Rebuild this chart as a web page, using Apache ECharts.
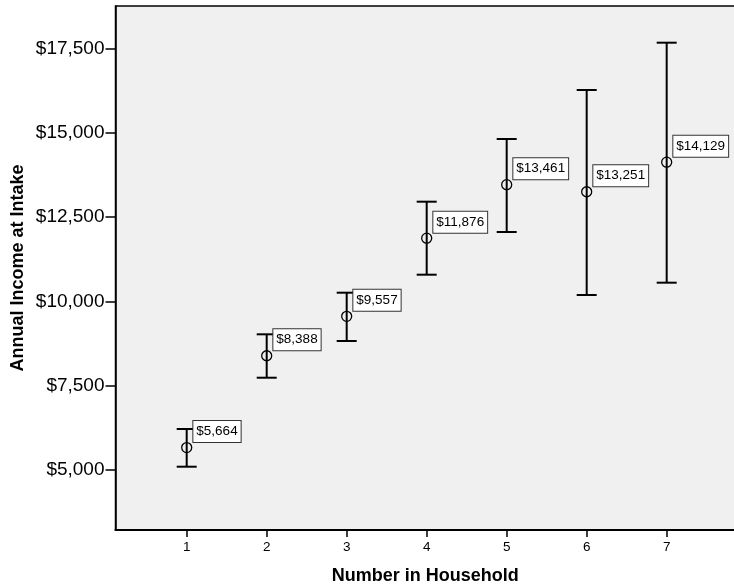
<!DOCTYPE html>
<html>
<head>
<meta charset="utf-8">
<script src="https://cdn.jsdelivr.net/npm/echarts@6/dist/echarts.min.js"></script>
<style>
html,body{margin:0;padding:0;background:#fff;}
#c{width:734px;height:585px;}
</style>
</head>
<body>
<div id="c"></div>
<script>
var households = [1, 2, 3, 4, 5, 6, 7];
var means = [5664, 8388, 9557, 11876, 13461, 13251, 14129];
var lower = [5098, 7737, 8826, 10792, 12058, 10190, 10555];
var upper = [6216, 9024, 10258, 12957, 14816, 16269, 17672];
var yTicks = [5000, 7500, 10000, 12500, 15000, 17500];

function money(v) {
  return '$' + String(Math.round(v)).replace(/\B(?=(\d{3})+(?!\d))/g, ',');
}

var FONT = '"Liberation Sans", Arial, sans-serif';
var chart = echarts.init(document.getElementById('c'), null, {renderer: 'canvas'});

var barData = households.map(function (h, i) { return [h, lower[i], upper[i]]; });
var pointData = households.map(function (h, i) { return [h, means[i]]; });

chart.setOption({
  animation: false,
  backgroundColor: '#fff',
  grid: {
    left: 115.5, top: 6, right: -1, bottom: 55,
    containLabel: false, outerBoundsMode: 'none',
    show: true, backgroundColor: '#f0f0f0', borderColor: '#000', borderWidth: 1.5
  },
  xAxis: {
    type: 'value', min: 0.11, max: 7.854,
    name: 'Number in Household', nameLocation: 'middle', nameGap: 37, nameMoveOverlap: false,
    nameTextStyle: {fontFamily: FONT, fontSize: 18, fontWeight: 'bold', color: '#000'},
    axisLine: {show: true, onZero: false, lineStyle: {color: '#000', width: 2}},
    axisTick: {show: true, length: 7, lineStyle: {color: '#000', width: 1.5}, customValues: households},
    axisLabel: {fontFamily: FONT, fontSize: 13.5, color: '#000', margin: 10, customValues: households},
    splitLine: {show: false}
  },
  yAxis: {
    type: 'value', min: 3221, max: 18760,
    name: 'Annual Income at Intake', nameLocation: 'middle', nameGap: 88, nameMoveOverlap: false,
    nameTextStyle: {fontFamily: FONT, fontSize: 18, fontWeight: 'bold', color: '#000'},
    axisLine: {show: true, onZero: false, lineStyle: {color: '#000', width: 1.5}},
    axisTick: {show: true, length: 10, lineStyle: {color: '#000', width: 1.5}, customValues: yTicks},
    axisLabel: {fontFamily: FONT, fontSize: 19, color: '#000', margin: 11, customValues: yTicks,
      formatter: function (v) { return money(v); }},
    splitLine: {show: false}
  },
  series: [
    {
      type: 'custom',
      data: barData,
      z: 2,
      renderItem: function (params, api) {
        var x = api.value(0);
        var lo = api.coord([x, api.value(1)]);
        var hi = api.coord([x, api.value(2)]);
        var half = 10;
        var style = {stroke: '#000', lineWidth: 2, fill: null};
        return {
          type: 'group',
          children: [
            {type: 'line', shape: {x1: lo[0], y1: lo[1], x2: hi[0], y2: hi[1]}, style: style},
            {type: 'line', shape: {x1: lo[0] - half, y1: lo[1], x2: lo[0] + half, y2: lo[1]}, style: style},
            {type: 'line', shape: {x1: hi[0] - half, y1: hi[1], x2: hi[0] + half, y2: hi[1]}, style: style}
          ]
        };
      }
    },
    {
      type: 'scatter',
      data: pointData,
      z: 3,
      symbol: 'circle',
      symbolSize: 10,
      itemStyle: {color: 'rgba(0,0,0,0)', borderColor: '#000', borderWidth: 1.3, opacity: 1},
      label: {
        show: true,
        position: 'right',
        distance: 1,
        offset: [0, -16],
        formatter: function (p) { return money(p.value[1]); },
        fontFamily: FONT, fontSize: 13.5, color: '#000',
        backgroundColor: '#fff', borderColor: '#333', borderWidth: 1,
        padding: [4, 3, 3, 3]
      },
      emphasis: {disabled: true}
    }
  ]
});
</script>
</body>
</html>
